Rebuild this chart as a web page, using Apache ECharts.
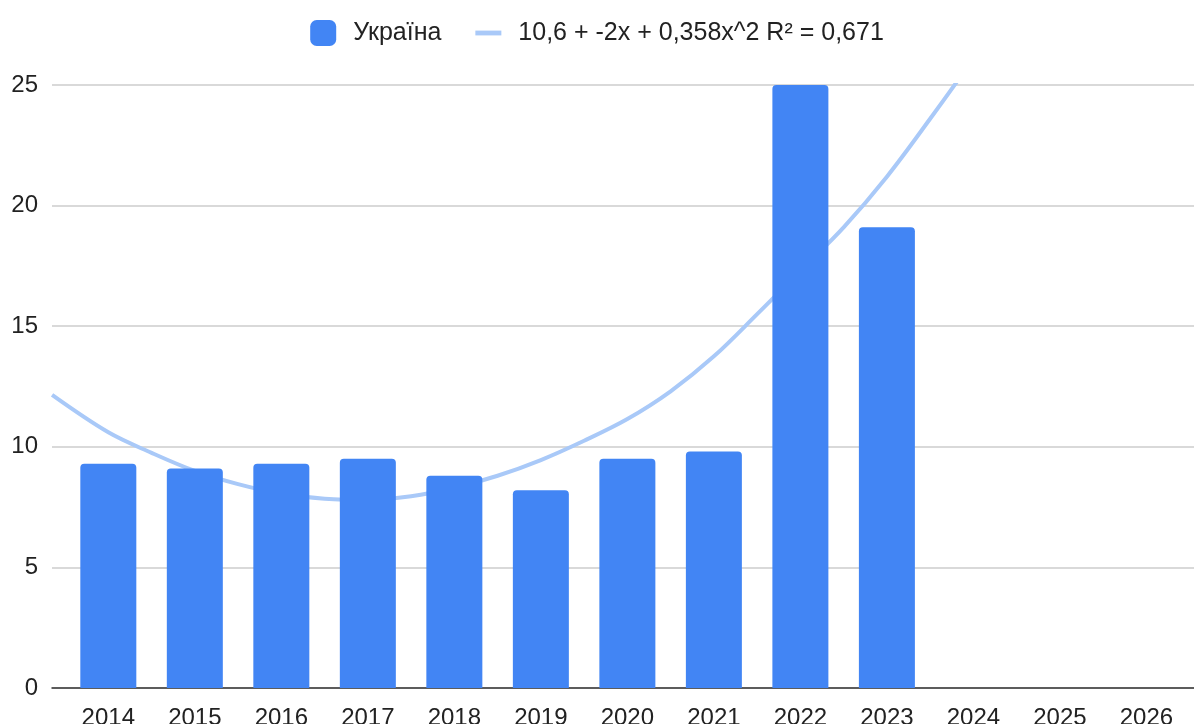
<!DOCTYPE html>
<html>
<head>
<meta charset="utf-8">
<script src="https://cdn.jsdelivr.net/npm/echarts@6/dist/echarts.min.js"></script>
<style>
  html, body { margin: 0; padding: 0; background: #fff; }
  #main { width: 1194px; height: 724px; }
</style>
</head>
<body>
<div id="main"></div>
<script>
// data
let years = [2014, 2015, 2016, 2017, 2018, 2019, 2020, 2021, 2022, 2023];
let values = [9.3, 9.1, 9.3, 9.5, 8.8, 8.2, 9.5, 9.8, 25.0, 19.1];
let tickYears = [2014, 2015, 2016, 2017, 2018, 2019, 2020, 2021, 2022, 2023, 2024, 2025, 2026];

// trend line, every half year
let trendX = [2013.35, 2014, 2014.5, 2015, 2015.5, 2016, 2016.5, 2017, 2017.5, 2018, 2018.5, 2019, 2019.5, 2020, 2020.5, 2021, 2021.5, 2022, 2022.5, 2023, 2023.5, 2024, 2024.5];
let trendY = [12.15, 10.6, 9.75, 9.0, 8.45, 8.05, 7.85, 7.8, 7.95, 8.3, 8.8, 9.45, 10.25, 11.15, 12.3, 13.75, 15.5, 17.3, 19.1, 21.2, 23.6, 26.1, 28.7];

let barName = 'Україна';
let trendName = '10,6 + -2x + 0,358x^2 R² = 0,671';

let app = {};

app.barData = years.map(function (y, i) { return [y, values[i]]; });
app.trendData = trendX.map(function (x, i) { return [x, trendY[i]]; });

let myChart = echarts.init(document.getElementById('main'));

let option = {
    animation: false,
    textStyle: { fontFamily: 'Liberation Sans, Arial, sans-serif' },
    legend: {
        top: 15,
        left: 'center',
        itemWidth: 26,
        itemHeight: 26,
        itemGap: 34,
        textStyle: { fontSize: 25, color: '#222', padding: [0, 0, 0, 12] },
        data: [
            { name: barName, icon: 'roundRect' },
            { name: trendName, icon: 'path://M0,0 L27,0 L27,5 L0,5 Z' }
        ]
    },
    grid: { left: 52, right: 0, top: 85, bottom: 36, containLabel: false, outerBoundsMode: 'none' },
    xAxis: {
        type: 'value',
        min: 2013.349,
        max: 2026.55,
        axisLine: { show: true, onZero: false, lineStyle: { color: '#333', width: 1.5 } },
        axisTick: { show: false },
        splitLine: { show: false },
        axisLabel: {
            customValues: tickYears,
            formatter: function (v) { return String(v); },
            fontSize: 24,
            color: '#222',
            margin: 18
        }
    },
    yAxis: {
        type: 'value',
        min: 0,
        max: 25,
        interval: 5,
        axisLine: { show: false },
        axisTick: { show: false },
        splitLine: { lineStyle: { color: '#cccccc', width: 1.5 } },
        axisLabel: { fontSize: 24, color: '#222', margin: 14 }
    },
    series: [
        {
            name: trendName,
            type: 'line',
            data: app.trendData,
            smooth: 0.35,
            symbol: 'none',
            z: 1,
            lineStyle: { color: '#a9c9f8', width: 4 },
            itemStyle: { color: '#a9c9f8' }
        },
        {
            name: barName,
            type: 'bar',
            data: app.barData,
            barWidth: 56,
            z: 3,
            itemStyle: { color: '#4285f4', borderRadius: [4, 4, 0, 0] }
        }
    ]
};

myChart.setOption(option);
</script>
</body>
</html>
